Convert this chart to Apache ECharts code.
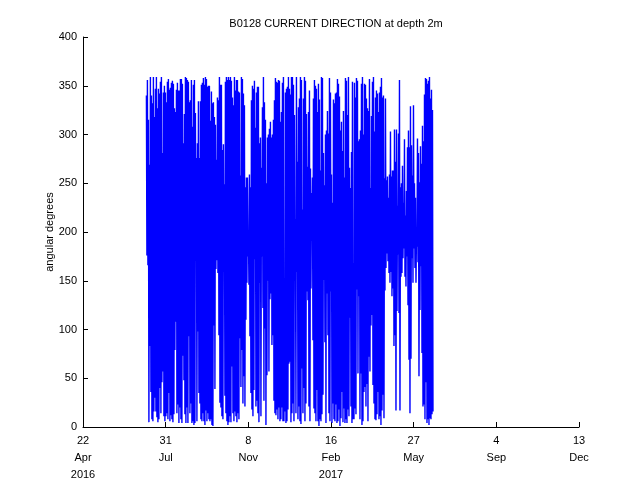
<!DOCTYPE html>
<html><head><meta charset="utf-8">
<script src="https://cdn.jsdelivr.net/npm/echarts@6/dist/echarts.min.js"></script>
<style>html,body{margin:0;padding:0;background:#fff}#c{width:640px;height:480px}</style>
</head><body><div id="c"></div>
<script>
// x axis: days after 22 Apr 2016, ticks every 100 days
const xTickLabels = ['22\nApr\n2016', '31\nJul', '8\nNov', '16\nFeb\n2017', '27\nMay', '4\nSep', '13\nDec'];
const firstSampleDay = 76.7;     // ~7 Jul 2016
const sampleStepDays = 1.21;     // spacing of successive envelope samples

// per-sample maximum (upper envelope) of current direction, degrees
const dirHigh = [
340,356,315,269,359,340,332,359,318,347,359,327,347,342,354,359,281,343,350,343,333,354,357,346,348,353,355,352,327,323,346,353,345,345,357,357,
352,291,321,359,358,356,354,333,335,356,308,351,356,322,276,291,334,276,334,351,353,358,351,359,357,349,350,350,314,344,
332,333,318,310,274,338,335,359,351,351,284,290,249,354,359,356,359,356,359,355,338,330,359,345,356,356,344,343,258,359,
357,342,330,246,256,256,200,259,246,335,350,347,355,307,343,349,349,291,297,266,328,359,333,315,250,297,300,306,313,297,
300,315,335,358,354,353,356,355,313,323,353,359,99,343,347,349,359,
347,341,359,359,351,320,213,359,272,328,337,359,356,223,337,359,355,321,267,323,345,265,240,256,337,356,350,347,323,352,
336,263,359,358,281,248,300,304,324,301,358,343,259,230,336,332,342,343,357,352,339,304,313,283,324,256,358,355,320,359,
266,245,282,354,168,353,338,358,355,293,295,304,352,359,300,352,351,337,327,324,357,245,319,354,359,303,338,345,342,323,
343,349,358,338,340,255,337,253,257,235,259,303,257,263,263,305,272,305,227,301,356,246,250,268,230,295,217,242,287,304,
287,329,289,258,330,250,235,198,296,281,251,288,270,309,293,341,358,357,352,355,359,337,346,325
];
// per-sample minimum (lower envelope) of current direction, degrees
const dirLow = [
176,166,5,83,36,8,6,16,30,16,10,5,8,40,14,46,57,11,6,11,14,8,35,6,12,8,5,13,79,108,14,23,4,20,8,4,
73,48,13,4,20,4,93,14,24,4,6,2,4,171,6,98,35,24,8,6,14,6,2,17,6,14,8,6,8,2,
1,104,39,162,171,158,94,25,20,11,8,159,32,14,6,2,5,11,5,62,14,6,16,11,5,14,8,91,41,79,
24,52,21,110,148,175,146,93,35,18,11,38,172,21,27,14,5,148,11,175,122,27,101,2,53,150,57,131,137,84,
94,27,14,12,18,8,20,6,8,20,6,6,16,4,6,18,65,
67,5,14,24,6,155,14,159,8,21,6,3,60,14,40,6,24,139,130,21,6,142,191,89,19,14,6,38,6,1,
8,6,13,33,151,87,4,137,94,14,6,139,4,24,8,6,23,4,6,18,1,9,36,5,19,4,8,4,18,11,
112,21,4,8,8,19,13,141,55,134,8,55,2,6,36,41,21,44,6,72,57,104,115,43,24,8,7,13,36,8,
11,2,17,33,9,140,163,178,170,158,148,159,134,142,83,94,17,119,177,117,17,154,158,173,183,154,144,175,125,69,
14,70,173,148,183,163,148,185,169,52,120,165,76,21,23,8,46,4,8,2,9,8,13,16
];

const points = [];
for (let i = 0; i < dirHigh.length; i++) {
  const d = firstSampleDay + i * sampleStepDays;
  points.push([d, dirHigh[i]]);
  points.push([d + sampleStepDays / 2, dirLow[i]]);
}

const FONT = 'Liberation Sans, Arial, Helvetica, sans-serif';
const chart = echarts.init(document.getElementById('c'), null, {renderer: 'canvas'});
chart.setOption({
  animation: false,
  backgroundColor: '#fff',
  title: {
    text: 'B0128 CURRENT DIRECTION at depth 2m',
    left: 331, top: 13, textAlign: 'center',
    textStyle: {fontFamily: FONT, fontSize: 11, fontWeight: 'normal', color: '#000'}
  },
  grid: {left: 83, right: 61, top: 37, bottom: 53, containLabel: false, outerBoundsMode: 'none'},
  xAxis: {
    type: 'value', min: 0, max: 600, interval: 100,
    axisLine: {show: true, lineStyle: {color: '#000', width: 1}},
    axisTick: {show: true, inside: true, length: 5, lineStyle: {color: '#000'}},
    splitLine: {show: false},
    axisLabel: {
      formatter: v => xTickLabels[Math.round(v / 100)] || '',
      color: '#000', fontFamily: FONT, fontSize: 11, lineHeight: 17, margin: 5
    }
  },
  yAxis: {
    type: 'value', min: 0, max: 400, interval: 50,
    name: 'angular degrees', nameLocation: 'middle', nameGap: 28, nameRotate: 90,
    nameMoveOverlap: false,
    nameTextStyle: {color: '#000', fontFamily: FONT, fontSize: 11},
    axisLine: {show: true, lineStyle: {color: '#000', width: 1}},
    axisTick: {show: true, inside: true, length: 5, lineStyle: {color: '#000'}},
    splitLine: {show: false},
    axisLabel: {color: '#000', fontFamily: FONT, fontSize: 11, margin: 6}
  },
  series: [{
    type: 'line', data: points, showSymbol: false, symbol: 'none',
    sampling: null, clip: true,
    lineStyle: {color: '#0000ff', width: 1.4}
  }]
});
</script></body></html>
